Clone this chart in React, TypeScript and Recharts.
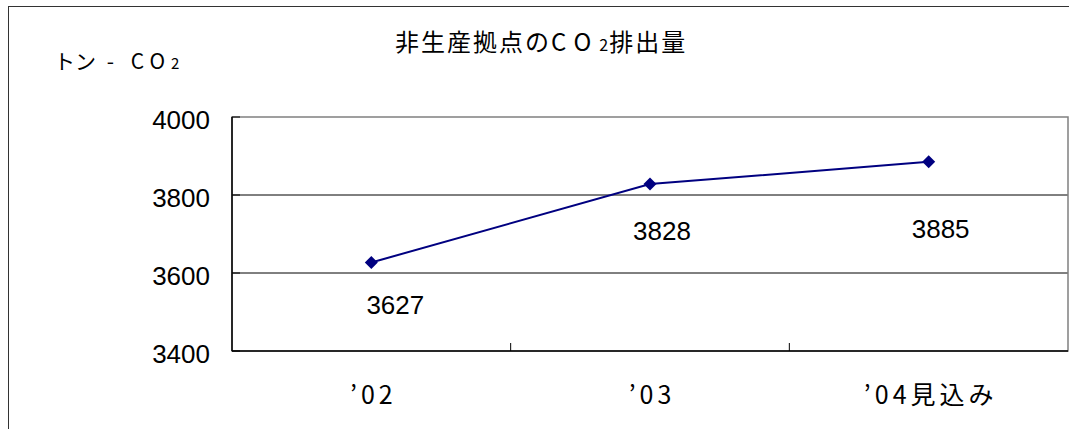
import React from "react";
import {
  LineChart, Line, XAxis, YAxis, CartesianGrid, ReferenceArea, LabelList,
} from "recharts";

const years = ["’02", "’03", "’04見込み"];
const emissions = [3627, 3828, 3885];
const yTicks = [3400, 3600, 3800, 4000];

// manual label placement, as in the original sheet
const labelOffsets = [
  { dx: 24, dy: 43 },
  { dx: 12, dy: 47 },
  { dx: 12, dy: 67 },
];

const data = years.map((year, i) => ({ year, value: emissions[i] }));

const W = 1069;
const H = 429;
const PLOT_LEFT = 232;
const PLOT_RIGHT = 1068;
const CAT_W = (PLOT_RIGHT - PLOT_LEFT) / years.length;
const NAVY = "#000080";
const NUM_FONT = "'Liberation Sans', Arial, sans-serif";
const JP_FONT = "'Noto Sans CJK JP', sans-serif";

const YTick = (props: any) => {
  const { x, y, payload } = props;
  return (
    <g>
      <line x1={PLOT_LEFT} x2={PLOT_LEFT + 8} y1={y} y2={y} stroke="#000" />
      <text x={x} y={y + 3} textAnchor="end" dominantBaseline="central"
        fontFamily={NUM_FONT} fontSize={26} fill="#000">
        {payload.value}
      </text>
    </g>
  );
};

const XTick = (props: any) => {
  const { x, y, payload, index } = props;
  return (
    <g>
      {index < years.length - 1 && (
        <line x1={x + CAT_W / 2} x2={x + CAT_W / 2} y1={351} y2={343} stroke="#000" />
      )}
      <text x={x + 2} y={y + 42} textAnchor="middle" dominantBaseline="central"
        fontFamily={JP_FONT} fontSize={25} letterSpacing={4} fill="#000">
        {payload.value}
      </text>
    </g>
  );
};

const Diamond = (props: any) => {
  const { cx, cy } = props;
  const r = 6.5;
  return (
    <polygon
      key={`d-${cx}`}
      points={`${cx},${cy - r} ${cx + r},${cy} ${cx},${cy + r} ${cx - r},${cy}`}
      fill={NAVY}
    />
  );
};

const ValueLabel = (props: any) => {
  const { x, y, value, index } = props;
  const o = labelOffsets[index] || { dx: 0, dy: 40 };
  return (
    <text x={x + o.dx} y={y + o.dy} textAnchor="middle" dominantBaseline="central"
      fontFamily={NUM_FONT} fontSize={26} fill="#000">
      {value}
    </text>
  );
};

export default function App() {
  return (
    <div style={{ position: "absolute", left: 0, top: 0, width: W, height: H, overflow: "hidden", background: "#fff" }}>
      <div style={{ position: "absolute", left: 8, top: 6, width: W + 50, height: H + 50, borderLeft: "1.5px solid #333", borderTop: "1.5px solid #333" }} />
      <div style={{ position: "absolute", left: 395, top: 25, fontFamily: JP_FONT, fontSize: 24, letterSpacing: 2, lineHeight: "32px", whiteSpace: "nowrap" }}>
        非生産拠点の<span style={{ letterSpacing: 8 }}>CO</span><span style={{ fontSize: 16, letterSpacing: 1 }}>2</span>排出量
      </div>
      <div style={{ position: "absolute", left: 54, top: 45, fontFamily: JP_FONT, fontSize: 21, lineHeight: "30px", whiteSpace: "nowrap" }}>
        トン<span style={{ letterSpacing: 6 }}> - CO</span><span style={{ fontSize: 15 }}>2</span>
      </div>
      <div style={{ position: "absolute", left: 0, top: 0 }}>
        <LineChart width={W} height={H} data={data}
          margin={{ top: 117, right: W - PLOT_RIGHT, bottom: 0, left: 0 }}>
          <CartesianGrid vertical={false} stroke="#000" horizontalValues={[3600, 3800]} />
          <ReferenceArea y1={3400} y2={4000} stroke="#808080" strokeWidth={1.5} fill="none" ifOverflow="visible" />
          <XAxis dataKey="year" scale="band" height={78} tickSize={0} tickMargin={0}
            axisLine={{ stroke: "#000", strokeWidth: 1.5 }} tick={<XTick />} interval={0} />
          <YAxis width={PLOT_LEFT} domain={[3400, 4000]} ticks={yTicks} tickSize={0} tickMargin={22}
            axisLine={{ stroke: "#000", strokeWidth: 1.5 }} tick={<YTick />} allowDataOverflow />
          <Line type="linear" dataKey="value" stroke={NAVY} strokeWidth={2}
            dot={<Diamond />} activeDot={false} isAnimationActive={false}>
            <LabelList dataKey="value" content={<ValueLabel />} />
          </Line>
        </LineChart>
      </div>
    </div>
  );
}
